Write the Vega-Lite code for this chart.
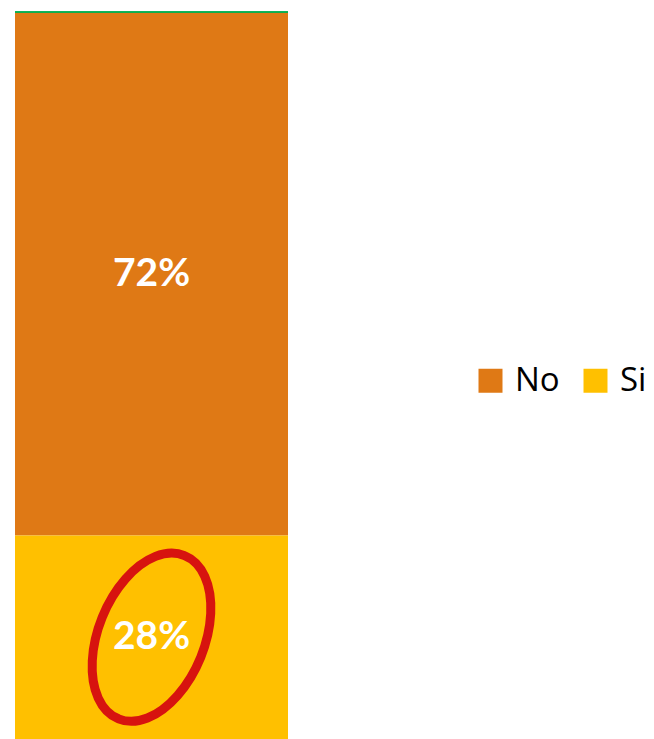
{
  "$schema": "https://vega.github.io/schema/vega-lite/v6.json",
  "width": 273,
  "height": 727,
  "autosize": "none",
  "padding": {"left": 15, "top": 12, "right": 366, "bottom": 0},
  "background": "white",
  "config": {"view": {"stroke": null}},
  "data": {"values": [
    {"serie": "Respuesta", "respuesta": "No", "pct": 0.72, "resaltado": false},
    {"serie": "Respuesta", "respuesta": "Si", "pct": 0.28, "resaltado": true}
  ]},
  "transform": [
    {"stack": "pct", "groupby": ["serie"], "sort": [{"field": "respuesta", "order": "descending"}], "as": ["y0", "y1"]},
    {"calculate": "(datum.y0 + datum.y1) / 2", "as": "ymid"}
  ],
  "layer": [
    {
      "mark": {"type": "bar"},
      "encoding": {
        "x": {"field": "serie", "type": "nominal", "scale": {"paddingInner": 0, "paddingOuter": 0}, "axis": null},
        "y": {"field": "y0", "type": "quantitative", "scale": {"domain": [0, 1]}, "axis": null},
        "y2": {"field": "y1"},
        "color": {
          "field": "respuesta", "type": "nominal",
          "scale": {"domain": ["No", "Si"], "range": ["#DF7915", "#FFC000"]},
          "legend": {
            "orient": "none", "legendX": 459, "legendY": 352, "direction": "horizontal",
            "padding": 0, "title": null, "symbolType": "square", "symbolSize": 576, "symbolStrokeWidth": 0,
            "symbolOpacity": 1, "labelFontSize": 33, "labelFont": "Open Sans", "labelColor": "black",
            "labelOffset": 8, "columnPadding": 19
          }
        }
      }
    },
    {
      "mark": {"type": "rule", "color": "#00B050", "strokeWidth": 1.5},
      "encoding": {"y": {"datum": 1, "type": "quantitative"}}
    },
    {
      "mark": {"type": "text", "color": "white", "font": "Lato", "fontWeight": "bold", "fontSize": 39, "align": "center", "baseline": "middle"},
      "encoding": {
        "x": {"field": "serie", "type": "nominal"},
        "y": {"field": "ymid", "type": "quantitative"},
        "text": {"field": "pct", "type": "quantitative", "format": ".0%"}
      }
    },
    {
      "transform": [{"filter": "datum.resaltado"}],
      "mark": {"type": "point", "shape": "M 0.375 -0.927 A 1 0.6 -68 1 1 -0.375 0.927 A 1 0.6 -68 1 1 0.375 -0.927 Z", "filled": false, "stroke": "#D7130F", "strokeWidth": 9, "size": 30976, "opacity": 1},
      "encoding": {
        "x": {"field": "serie", "type": "nominal"},
        "y": {"field": "ymid", "type": "quantitative"}
      }
    }
  ]
}
